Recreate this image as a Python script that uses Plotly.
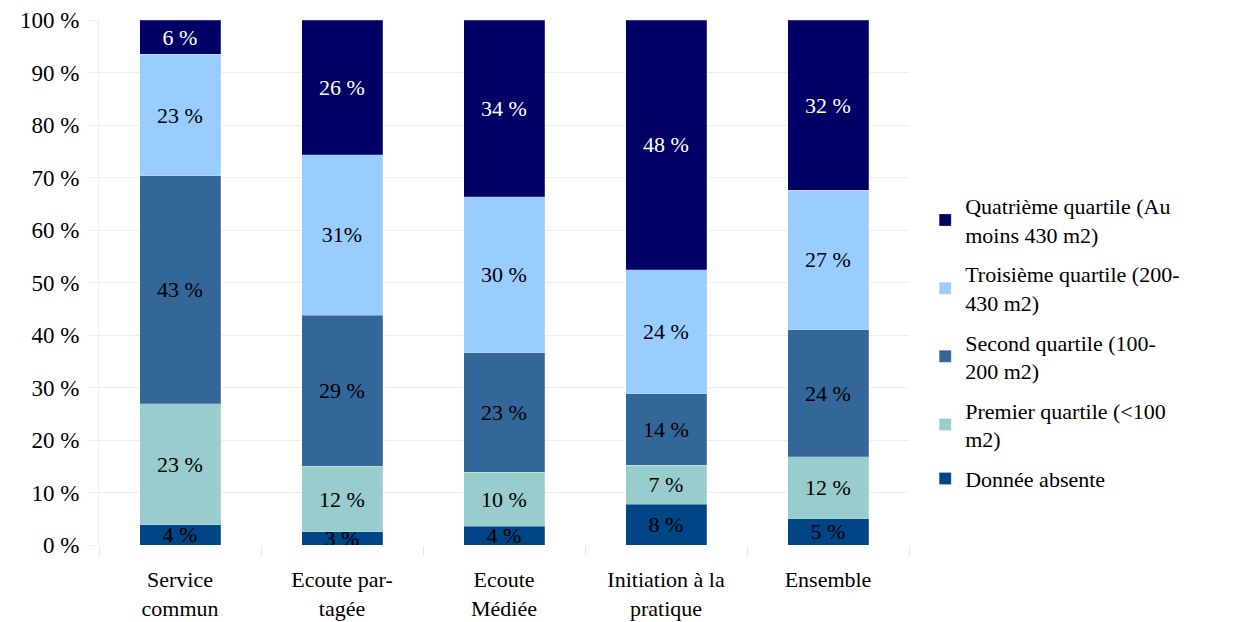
import plotly.graph_objs as go

categories = [
    "Service<br>commun",
    "Ecoute par-<br>tagée",
    "Ecoute<br>Médiée",
    "Initiation à la<br>pratique",
    "Ensemble",
]

# stacked shares (%), bottom to top
absente = [3.9, 2.5, 3.6, 7.8, 5.0]
premier = [23.0, 12.5, 10.3, 7.4, 11.8]
second = [43.4, 28.8, 22.7, 13.6, 24.2]
troisieme = [23.2, 30.5, 29.7, 23.6, 26.6]
quatrieme = [6.5, 25.7, 33.7, 47.6, 32.4]

# labels as printed on the bars
absente_lbl = ["4 %", "3 %", "4 %", "8 %", "5 %"]
premier_lbl = ["23 %", "12 %", "10 %", "7 %", "12 %"]
second_lbl = ["43 %", "29 %", "23 %", "14 %", "24 %"]
troisieme_lbl = ["23 %", "31%", "30 %", "24 %", "27 %"]
quatrieme_lbl = ["6 %", "26 %", "34 %", "48 %", "32 %"]

series = [
    ("Donnée absente", absente, absente_lbl, "#004586", "black"),
    ("Premier quartile (<100<br>m2)", premier, premier_lbl, "#99cccc", "black"),
    ("Second quartile (100-<br>200 m2)", second, second_lbl, "#336699", "black"),
    ("Troisième quartile (200-<br>430 m2)", troisieme, troisieme_lbl, "#99ccff", "black"),
    ("Quatrième quartile (Au<br>moins 430 m2)", quatrieme, quatrieme_lbl, "#000066", "white"),
]

FONT = "Liberation Serif"

fig = go.Figure()
for i, (name, vals, lbls, color, txtcolor) in enumerate(series):
    fig.add_trace(
        go.Bar(
            x=categories,
            y=vals,
            name=name,
            text=lbls,
            textposition="inside",
            insidetextanchor="middle",
            constraintext="none",
            textangle=0,
            textfont=dict(family=FONT, size=22, color=txtcolor),
            marker=dict(color=color, line=dict(color="rgba(255,255,255,0.35)", width=0.6)),
            legendgroup="g%d" % i,
            legendrank=len(series) - i,  # top of the stack first in the legend
            hoverinfo="skip",
        )
    )

# the page body adds an 8px offset, so the figure is a bit smaller than the window
fig.update_layout(
    barmode="stack",
    bargap=0.5,
    width=1232,
    height=614,
    margin=dict(l=91, r=331, t=12, b=77),
    paper_bgcolor="white",
    plot_bgcolor="white",
    font=dict(family=FONT, size=22, color="black"),
    uniformtext=dict(mode="show", minsize=22),
    showlegend=True,
    legend=dict(
        x=1.02,
        xanchor="left",
        y=0.386,
        yanchor="middle",
        traceorder="grouped",
        tracegroupgap=8,
        font=dict(family=FONT, size=22, color="black"),
        itemwidth=30,
    ),
    xaxis=dict(
        tickson="boundaries",
        ticks="outside",
        ticklen=10,
        tickcolor="#e6e6e6",
        showgrid=False,
        showline=False,
        automargin=False,
        ticklabelstandoff=19,
        ticklabeloverflow="allow",
        tickfont=dict(family=FONT, size=22),
    ),
    yaxis=dict(
        range=[0, 100],
        tickvals=[0, 10, 20, 30, 40, 50, 60, 70, 80, 90, 100],
        ticktext=["0 %", "10 %", "20 %", "30 %", "40 %", "50 %",
                  "60 %", "70 %", "80 %", "90 %", "100 %"],
        ticks="outside",
        ticklen=9,
        tickcolor="#eeeeee",
        showgrid=True,
        gridcolor="#eeeeee",
        showline=True,
        linecolor="#eeeeee",
        zeroline=False,
        automargin=False,
        ticklabelstandoff=5,
        ticklabeloverflow="allow",
        tickfont=dict(family=FONT, size=23),
    ),
)

fig.write_html("out.html")
